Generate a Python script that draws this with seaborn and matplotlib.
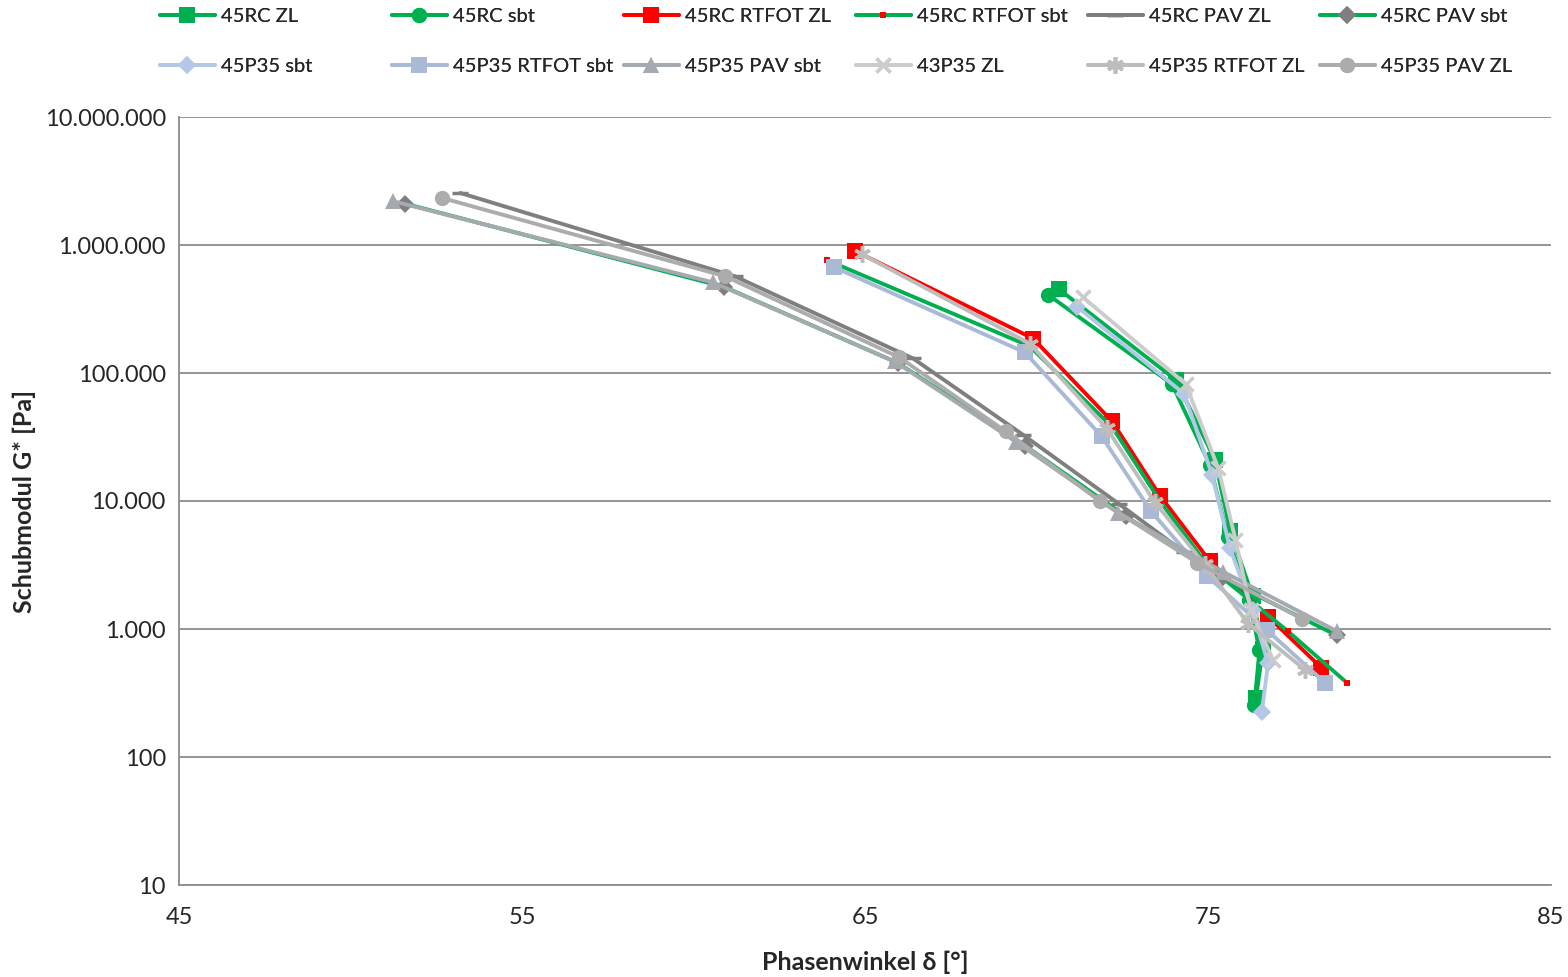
import numpy as np
import pandas as pd
import matplotlib
matplotlib.use("Agg")
import matplotlib.pyplot as plt
import seaborn as sns

# series data: phase angle [deg] and complex shear modulus [Pa]
names = ["45RC ZL", "45RC sbt", "45RC RTFOT ZL", "45RC RTFOT sbt", "45RC PAV ZL", "45RC PAV sbt",
         "45P35 sbt", "45P35 RTFOT sbt", "45P35 PAV sbt", "43P35 ZL", "45P35 RTFOT ZL", "45P35 PAV ZL"]

rc_zl_x = [70.66, 74.07, 75.2, 75.65, 76.3, 76.6, 76.4]
rc_zl_g = [4.5e5, 8.8e4, 2.1e4, 5.8e3, 1.8e3, 700, 290]
rc_sbt_x = [70.33, 73.95, 75.06, 75.58, 76.2, 76.5, 76.35]
rc_sbt_g = [4.1e5, 8.2e4, 1.9e4, 5.2e3, 1.7e3, 680, 255]
rc_rt_zl_x = [64.7, 69.9, 72.2, 73.6, 75.05, 76.75, 78.3]
rc_rt_zl_g = [9.0e5, 1.86e5, 4.2e4, 1.1e4, 3.4e3, 1.25e3, 500]
rc_rt_sbt_x = [63.9, 69.8, 72.2, 73.6, 75.0, 77.33, 79.05]
rc_rt_sbt_g = [7.6e5, 1.62e5, 3.8e4, 1.0e4, 3.1e3, 960, 380]
rc_pav_zl_x = [53.2, 61.2, 66.4, 69.6, 72.4, 74.3]
rc_pav_zl_g = [2.55e6, 5.7e5, 1.3e5, 3.3e4, 9.5e3, 4.0e3]
rc_pav_sbt_x = [51.6, 60.9, 65.95, 69.67, 72.6, 75.4, 78.76]
rc_pav_sbt_g = [2.1e6, 4.7e5, 1.2e5, 2.7e4, 7.6e3, 2.5e3, 890]
p_sbt_x = [71.18, 74.3, 75.12, 75.64, 76.3, 76.75, 76.57]
p_sbt_g = [3.3e5, 6.9e4, 1.6e4, 4.3e3, 1.4e3, 540, 225]
p_rt_sbt_x = [64.1, 69.66, 71.9, 73.34, 74.97, 76.72, 78.41]
p_rt_sbt_g = [6.7e5, 1.45e5, 3.2e4, 8.3e3, 2.6e3, 980, 380]
p_pav_sbt_x = [51.24, 60.57, 65.87, 69.4, 72.38, 75.44, 78.76]
p_pav_sbt_g = [2.2e6, 5.1e5, 1.23e5, 2.9e4, 8.1e3, 2.8e3, 960]
p43_zl_x = [71.36, 74.35, 75.3, 75.8, 76.25, 76.9]
p43_zl_g = [3.9e5, 8.2e4, 1.8e4, 5.0e3, 1.4e3, 570]
p_rt_zl_x = [64.9, 69.8, 72.05, 73.45, 74.9, 76.17, 77.83]
p_rt_zl_g = [8.5e5, 1.7e5, 3.7e4, 9.8e3, 3.2e3, 1.1e3, 480]
p_pav_zl_x = [52.67, 60.92, 65.99, 69.1, 71.85, 74.68, 77.74]
p_pav_zl_g = [2.33e6, 5.7e5, 1.33e5, 3.5e4, 1.0e4, 3.3e3, 1.2e3]

xs = [rc_zl_x, rc_sbt_x, rc_rt_zl_x, rc_rt_sbt_x, rc_pav_zl_x, rc_pav_sbt_x,
      p_sbt_x, p_rt_sbt_x, p_pav_sbt_x, p43_zl_x, p_rt_zl_x, p_pav_zl_x]
gs = [rc_zl_g, rc_sbt_g, rc_rt_zl_g, rc_rt_sbt_g, rc_pav_zl_g, rc_pav_sbt_g,
      p_sbt_g, p_rt_sbt_g, p_pav_sbt_g, p43_zl_g, p_rt_zl_g, p_pav_zl_g]

y_ticks = [10, 100, 1000, 10000, 100000, 1000000, 10000000]
y_labels = ["10", "100", "1.000", "10.000", "100.000", "1.000.000", "10.000.000"]
x_ticks = [45, 55, 65, 75, 85]

# styles: line colour, marker, marker face colour, marker size
green = "#00B050"
styles = [
    (green, "s", green, 11),
    (green, "o", green, 11),
    ("#FF0000", "s", "#FF0000", 11),
    (green, "s", "#FF0000", 4),
    ("#7F7F7F", "_", "#7F7F7F", 11),
    (green, "D", "#7F7F7F", 9),
    ("#B4C7E7", "D", "#B4C7E7", 9),
    ("#A9B9D6", "s", "#A9B9D6", 11),
    ("#A5A9B0", "^", "#A5A9B0", 11),
    ("#CCCCCC", "x", "#CCCCCC", 10),
    ("#BDBDBD", (6, 2, 0), "#BDBDBD", 12),
    ("#ACACAC", "o", "#ACACAC", 11),
]

df = pd.concat([pd.DataFrame({"name": n, "phase": x, "G": g}) for n, x, g in zip(names, xs, gs)])

sns.set_style("white")
plt.rcParams["font.family"] = ["Lato", "DejaVu Sans"]

fig = plt.figure(figsize=(15.68, 9.77), dpi=100)
ax = fig.add_axes([179 / 1568, 1 - 885 / 977, (1551 - 179) / 1568, (885 - 117) / 977])

handles = []
for n, (c, m, mfc, ms) in zip(names, styles):
    sub = df[df["name"] == n]
    sns.lineplot(data=sub, x="phase", y="G", sort=False, estimator=None, ax=ax,
                 color=c, marker=m, markersize=ms, markerfacecolor=mfc,
                 markeredgecolor=mfc, markeredgewidth=2.5 if m in ("_", "x", (6, 2, 0)) else 0,
                 linewidth=2.8, label=n, legend=False)
    handles.append(ax.lines[-1])

ax.set_yscale("log")
ax.set_ylim(10, 1e7)
ax.set_xlim(45, 85)
ax.set_yticks(y_ticks)
ax.set_yticklabels(y_labels)
ax.minorticks_off()
ax.set_xticks(x_ticks)
ax.tick_params(axis="both", labelsize=17, length=6, color="#8C8C8C", width=1.2, direction="out")
ax.tick_params(axis="x", pad=10)
ax.yaxis.grid(True, color="#8C8C8C", linewidth=1.3)
ax.xaxis.grid(False)
for s in ["top", "right"]:
    ax.spines[s].set_visible(False)
for s in ["left", "bottom"]:
    ax.spines[s].set_color("#8C8C8C")
    ax.spines[s].set_linewidth(1.3)
ax.set_axisbelow(True)

ax.set_xlabel("Phasenwinkel δ [°]", fontsize=18, fontweight="bold", labelpad=16)
ax.set_ylabel("Schubmodul G* [Pa]", fontsize=18, fontweight="bold", labelpad=6)

# legend: 6 columns at fixed pitch, 2 rows
for col in range(6):
    hs = [handles[col], handles[col + 6]]
    ls = [names[col], names[col + 6]]
    leg = fig.legend(hs, ls, loc="upper left", bbox_to_anchor=((160 + 232 * col) / 1568 - 0.005, 1.0),
                     frameon=False, fontsize=14.5, handlelength=2.7, handletextpad=0.3,
                     labelspacing=1.62, borderaxespad=0)
    fig.add_artist(leg)

fig.savefig("out.png", dpi=100)
